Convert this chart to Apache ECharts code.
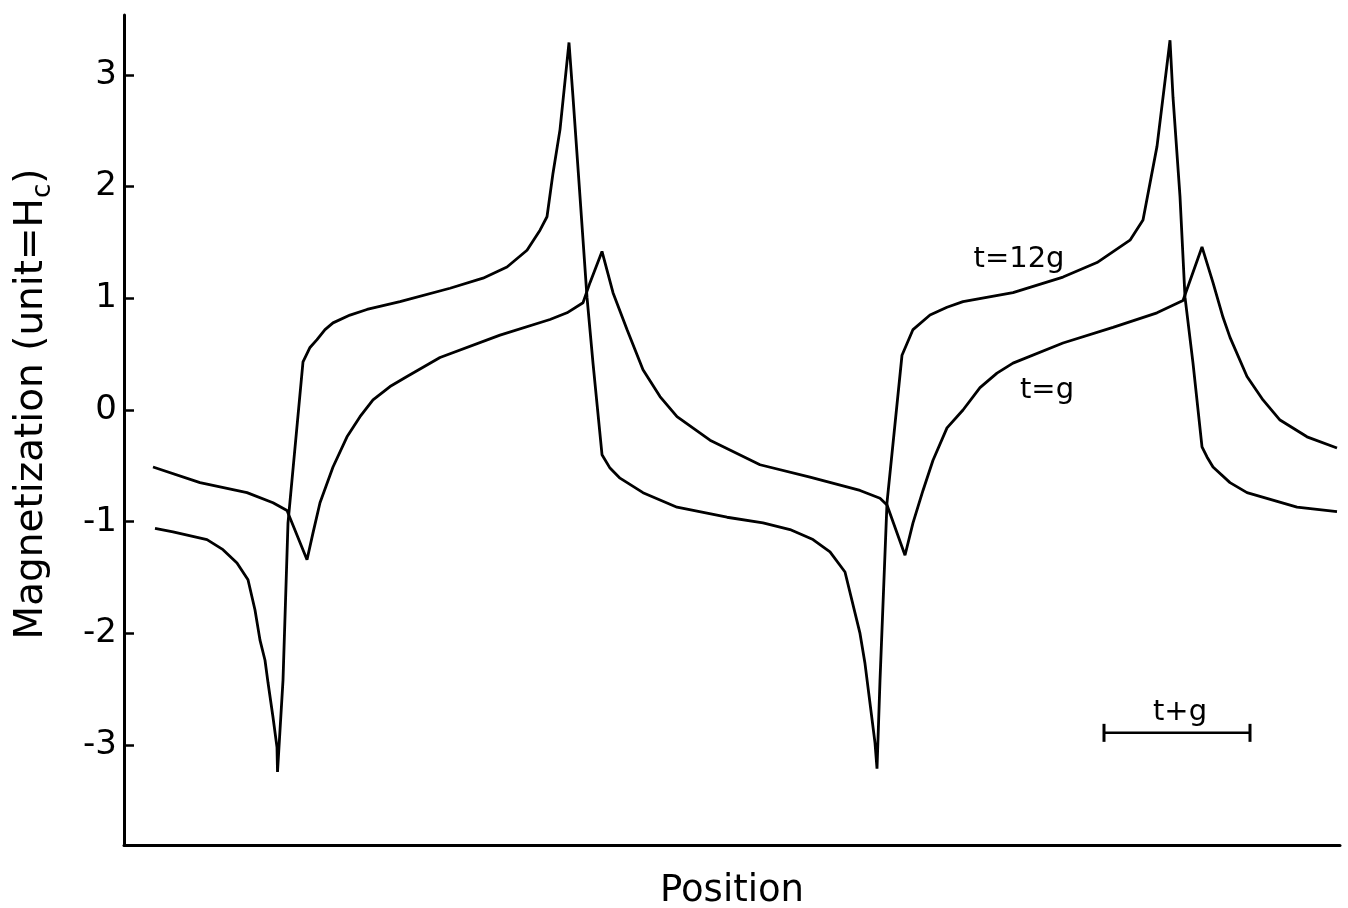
<!DOCTYPE html>
<html>
<head>
<meta charset="utf-8">
<script src="https://cdn.jsdelivr.net/npm/echarts@6/dist/echarts.min.js"></script>
<style>
html,body{margin:0;padding:0;background:#fff}
#chart{width:1348px;height:908px}
</style>
</head>
<body>
<div id="chart"></div>
<script>
// position along the sample (arbitrary units) and magnetization in units of Hc
var pos_12g = [0.31,0.49,0.83,0.99,1.13,1.24,1.31,1.36,1.41,1.44,1.49,1.53,1.535,1.59,1.64,1.79,1.86,1.93,2.01,2.09,2.26,2.43,
	2.76,3.26,3.59,3.83,4.03,4.16,4.23,4.29,4.36,4.45,4.49,4.56,4.63,4.69,4.78,4.86,4.96,5.19,5.53,6.03,6.39,6.66,6.89,7.06,
	7.21,7.36,7.41,7.51,7.53,7.56,7.63,7.78,7.89,8.06,8.23,8.39,8.89,9.39,9.73,10.06,10.19,10.33,10.46,10.49,10.56,10.61,
	10.69,10.78,10.83,10.89,11.06,11.23,11.73,12.13];
var mag_12g = [-1.06,-1.09,-1.16,-1.25,-1.37,-1.52,-1.79,-2.06,-2.24,-2.44,-2.75,-3.02,-3.24,-2.42,-1.01,0.43,0.56,0.63,0.72,0.78,0.85,0.90,
	0.97,1.09,1.18,1.28,1.43,1.61,1.73,2.12,2.51,3.29,2.80,1.91,1.01,0.42,-0.40,-0.52,-0.61,-0.74,-0.87,-0.96,-1.01,-1.07,-1.16,-1.27,
	-1.45,-2.00,-2.27,-2.98,-3.21,-2.42,-0.83,0.49,0.72,0.85,0.92,0.97,1.05,1.19,1.32,1.52,1.70,2.36,3.31,2.80,1.91,1.01,
	0.42,-0.33,-0.42,-0.51,-0.65,-0.74,-0.87,-0.91];

var pos_g = [0.29,0.76,1.23,1.49,1.63,1.83,1.89,1.96,2.09,2.23,2.36,2.49,2.66,2.83,3.16,3.76,4.26,4.43,4.59,4.66,4.78,4.89,
	5.03,5.19,5.36,5.53,5.86,6.36,6.86,7.36,7.56,7.63,7.81,7.89,7.99,8.09,8.23,8.39,8.56,8.73,8.89,9.39,9.89,10.33,10.59,
	10.78,10.89,10.99,11.06,11.23,11.39,11.56,11.83,12.13];
var mag_g = [-0.51,-0.65,-0.74,-0.83,-0.90,-1.34,-1.10,-0.83,-0.51,-0.24,-0.06,0.09,0.21,0.30,0.47,0.67,0.81,0.87,0.96,1.14,1.42,1.05,
	0.72,0.36,0.12,-0.06,-0.27,-0.49,-0.60,-0.72,-0.79,-0.85,-1.30,-1.01,-0.72,-0.45,-0.16,0.00,0.20,0.33,0.42,0.60,0.74,0.87,0.98,
	1.46,1.14,0.83,0.65,0.30,0.09,-0.09,-0.24,-0.34];

var y_ticks = [-3,-2,-1,0,1,2,3];
var scale_bar_pos = [9.80, 11.26];
var scale_bar_mag = -2.89;

var FONT = 'DejaVu Sans';

function pairs(xs, ys){
	var out = [];
	for(var i = 0; i < xs.length; i++){
		out.push([xs[i], ys[i]]);
	}
	return out;
}

var myChart = echarts.init(document.getElementById('chart'));

myChart.setOption({
	animation: false,
	backgroundColor: '#fff',
	grid: {left: 124, right: 8, top: 15, bottom: 63, outerBoundsMode: 'none', containLabel: false},
	xAxis: {
		type: 'value',
		min: 0,
		max: 12.16,
		name: 'Position',
		nameLocation: 'middle',
		nameGap: 28,
		nameTextStyle: {fontFamily: FONT, fontSize: 37, color: '#000'},
		axisLine: {show: true, onZero: false, lineStyle: {color: '#000', width: 3}},
		axisTick: {show: false},
		axisLabel: {show: false},
		splitLine: {show: false}
	},
	yAxis: {
		type: 'value',
		min: -3.894,
		max: 3.536,
		name: 'Magnetization (unit=H{sub|c})',
		nameLocation: 'middle',
		nameRotate: 90,
		nameGap: 68,
		nameTextStyle: {
			fontFamily: FONT, fontSize: 39, color: '#000', lineHeight: 48,
			padding: [0, 0, 0, 52],
			rich: {
				sub: {fontFamily: FONT, fontSize: 26, color: '#000', lineHeight: 26, verticalAlign: 'bottom'}
			}
		},
		axisLine: {show: true, onZero: false, lineStyle: {color: '#000', width: 3}},
		axisTick: {show: true, inside: true, length: 10, customValues: y_ticks, lineStyle: {color: '#000', width: 2.5}},
		axisLabel: {show: true, margin: 7, customValues: y_ticks, fontFamily: FONT, fontSize: 34, color: '#000'},
		splitLine: {show: false}
	},
	series: [
		{
			name: 't=12g',
			type: 'line',
			data: pairs(pos_12g, mag_12g),
			showSymbol: false,
			smooth: false,
			lineStyle: {color: '#000', width: 2.8}
		},
		{
			name: 't=g',
			type: 'line',
			data: pairs(pos_g, mag_g),
			showSymbol: false,
			smooth: false,
			lineStyle: {color: '#000', width: 2.8}
		},
		{
			name: 'scale',
			type: 'line',
			data: [[scale_bar_pos[0], scale_bar_mag], [scale_bar_pos[1], scale_bar_mag]],
			symbol: 'rect',
			symbolSize: [3, 18],
			showSymbol: true,
			itemStyle: {color: '#000'},
			lineStyle: {color: '#000', width: 2.5}
		}
	],
	graphic: [
		{type: 'text', x: 1019, y: 259, style: {text: 't=12g', font: '29px "DejaVu Sans"', fill: '#000', align: 'center', verticalAlign: 'middle'}},
		{type: 'text', x: 1047, y: 390, style: {text: 't=g', font: '29px "DejaVu Sans"', fill: '#000', align: 'center', verticalAlign: 'middle'}},
		{type: 'text', x: 1180, y: 712, style: {text: 't+g', font: '29px "DejaVu Sans"', fill: '#000', align: 'center', verticalAlign: 'middle'}}
	]
});
</script>
</body>
</html>
